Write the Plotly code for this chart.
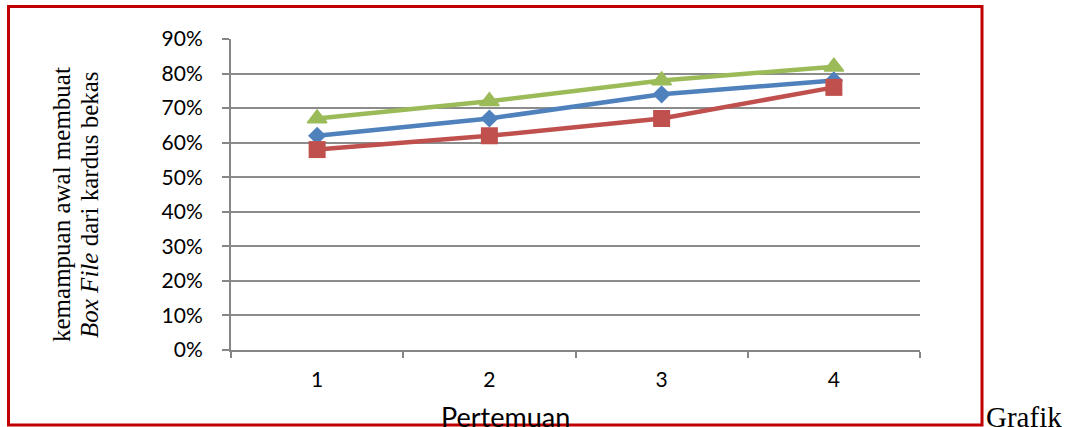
import plotly.graph_objects as go

categories = ["1", "2", "3", "4"]
series_blue = [0.62, 0.67, 0.74, 0.78]
series_red = [0.58, 0.62, 0.67, 0.76]
series_green = [0.67, 0.72, 0.78, 0.82]
y_ticks = [0.0, 0.1, 0.2, 0.3, 0.4, 0.5, 0.6, 0.7, 0.8, 0.9]

W, H = 1066, 427
L, R, T, B = 231, 146, 39, 77
PW, PH = W - L - R, H - T - B


def px(x):
    return (x - L) / PW


def py(y):
    return (H - B - y) / PH


fig = go.Figure()
fig.add_trace(go.Scatter(x=categories, y=series_blue, mode="lines+markers",
                         line=dict(color="#4F81BD", width=4.5),
                         marker=dict(symbol="diamond", size=14, color="#4F81BD"),
                         showlegend=False))
fig.add_trace(go.Scatter(x=categories, y=series_red, mode="lines+markers",
                         line=dict(color="#C0504D", width=4.5),
                         marker=dict(symbol="square", size=17, color="#C0504D"),
                         showlegend=False))
fig.add_trace(go.Scatter(x=categories, y=series_green, mode="lines+markers",
                         line=dict(color="#9BBB59", width=4.5),
                         marker=dict(symbol="triangle-up", size=17, color="#9BBB59",
                                     line=dict(color="#9BBB59", width=1.5)),
                         showlegend=False))

fig.update_layout(
    width=W, height=H,
    margin=dict(l=L, r=R, t=T, b=B),
    paper_bgcolor="white", plot_bgcolor="white",
    font=dict(family="Lato", size=21, color="black"),
    showlegend=False,
)
fig.update_xaxes(
    type="category", range=[-0.5, len(categories) - 0.5],
    tickson="boundaries", ticks="outside", ticklen=6,
    tickwidth=2, tickcolor="#868686", showline=True, linecolor="#868686",
    linewidth=2, showgrid=False, ticklabelstandoff=10,
    tickfont=dict(family="Lato", size=21, color="black"),
)
fig.update_yaxes(
    range=[0, 0.9], tickvals=y_ticks, tickformat=".0%", ticks="outside",
    ticklen=7, tickwidth=2, tickcolor="#868686", showline=True,
    linecolor="#868686", linewidth=2, showgrid=True, gridcolor="#8C8C8C",
    gridwidth=1.5, zeroline=False, ticklabelstandoff=15,
    tickfont=dict(family="Lato", size=21, color="black"),
)

# red frame around chart
fig.add_shape(type="rect", xref="paper", yref="paper",
              x0=px(8.5), x1=px(982), y0=py(425), y1=py(6.5),
              line=dict(color="#C00000", width=3), fillcolor="rgba(0,0,0,0)")

# axis titles
fig.add_annotation(text="kemampuan awal membuat", xref="paper", yref="paper",
                   x=px(61), y=py(205), textangle=-90, showarrow=False,
                   xanchor="center", yanchor="middle",
                   font=dict(family="Liberation Serif", size=25, color="black"))
fig.add_annotation(text="<i>Box File</i> dari kardus bekas", xref="paper", yref="paper",
                   x=px(89), y=py(205), textangle=-90, showarrow=False,
                   xanchor="center", yanchor="middle",
                   font=dict(family="Liberation Serif", size=25, color="black"))
fig.add_annotation(text="Pertemuan", xref="paper", yref="paper",
                   x=px(505), y=py(416), showarrow=False,
                   xanchor="center", yanchor="middle",
                   font=dict(family="Lato", size=27, color="black"))
fig.add_annotation(text="Grafik", xref="paper", yref="paper",
                   x=px(984), y=py(417), showarrow=False,
                   xanchor="left", yanchor="middle",
                   font=dict(family="Liberation Serif", size=29, color="black"))

fig.write_html("out.html", config={"displayModeBar": False},
               post_script="document.body.style.margin='0';document.body.style.overflow='hidden';")
